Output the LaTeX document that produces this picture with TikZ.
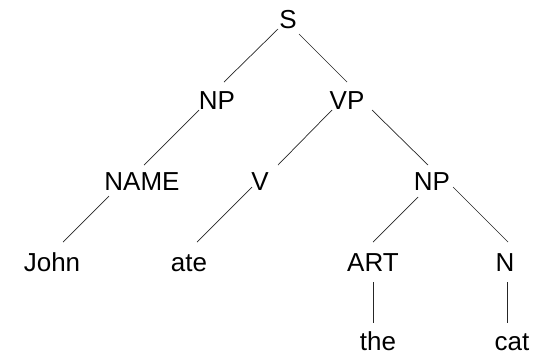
\documentclass[tikz,border=0pt]{standalone}
\usepackage{fontspec}
\setmainfont{Liberation Sans}
\usepackage{tikz,xcolor}

\begin{document}
\begin{tikzpicture}[x=1pt, y=-1pt,
		base/.style = {font=\fontsize{26}{30}\selectfont, inner sep=0pt, anchor=base} ,
		tag/.style = {base},
		edge/.style = {line width=0.7pt, black!85}
		]
		\useasboundingbox (0,0) rectangle (537,354);
		\node (S) [tag] at (288,28) {S};
		\node (NPa) [tag] at (217,109) {NP};
		\node (VP) [tag] at (347,109) {VP};
		\node (NAME) [tag] at (142,190) {NAME};
		\node (V) [tag] at (260,190) {V};
		\node (NPb) [tag] at (432,190) {NP};
		\node (John) [tag] at (52,271) {John};
		\node (ate) [tag] at (189,271) {ate};
		\node (ART) [tag] at (373,271) {ART};
		\node (N) [tag] at (505,271) {N};
		\node (the) [tag] at (378,350) {the};
		\node (cat) [tag] at (512,350) {cat};
		
		\draw[edge] ([shift={(-10,1)}]S.base) -- ([shift={(7,-27)}]NPa.base);
		\draw[edge] ([shift={(11,6)}]S.base) -- ([shift={(0,-27)}]VP.base);
		\draw[edge] ([shift={(-18,1)}]NPa.base) -- ([shift={(2,-25)}]NAME.base);
		\draw[edge] ([shift={(-15,1)}]VP.base) -- ([shift={(18,-25)}]V.base);
		\draw[edge] ([shift={(25,1)}]VP.base) -- ([shift={(-4,-25)}]NPb.base);
		\draw[edge] ([shift={(-33,6)}]NAME.base) -- ([shift={(11,-29)}]John.base);
		\draw[edge] ([shift={(-8,-3)}]V.base) -- ([shift={(8,-29)}]ate.base);
		\draw[edge] ([shift={(-14,7)}]NPb.base) -- ([shift={(0,-29)}]ART.base);
		\draw[edge] ([shift={(21,-3)}]NPb.base) -- ([shift={(3,-29)}]N.base);
		\draw[edge] ([shift={(0,11)}]ART.base) -- ([shift={(-5,-27)}]the.base);
		\draw[edge] ([shift={(2,11)}]N.base) -- ([shift={(-5,-27)}]cat.base);
	\end{tikzpicture}
\end{document}
